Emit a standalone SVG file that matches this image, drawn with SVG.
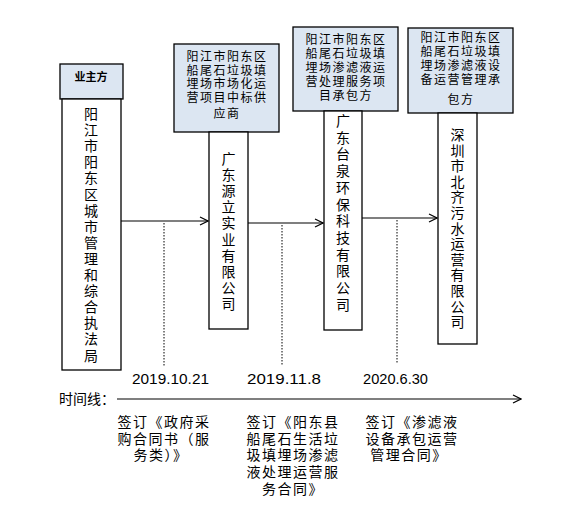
<svg xmlns="http://www.w3.org/2000/svg" width="582" height="509" viewBox="0 0 582 509">
<style>
.hd{fill:#dce6f2;stroke:#000;stroke-width:1.3}
.bd{fill:#fff;stroke:#000;stroke-width:1.3}
.t{font-family:"Liberation Serif","Noto Sans CJK SC",serif;fill:#000}
.h{font-size:12px;letter-spacing:1.5px;text-anchor:middle}
.v{font-size:14px;text-anchor:middle}
.lb{font-size:14px;letter-spacing:1.5px;text-anchor:middle}
.dt{font-family:"Liberation Sans",sans-serif;font-size:15px;fill:#000}
.ln{stroke:#000;stroke-width:1.2;fill:none}
.dot{stroke:#000;stroke-width:1;stroke-dasharray:1.5 1.5;fill:none}
</style>
<defs>
<marker id="arr" markerWidth="10" markerHeight="10" refX="9" refY="5" orient="auto" markerUnits="userSpaceOnUse">
<path d="M1,1 L9,5 L1,9" fill="none" stroke="#000" stroke-width="1.2"/>
</marker>
</defs>
<rect width="582" height="509" fill="#fff"/>

<g id="n1">
<rect class="hd" x="60" y="64" width="63" height="35"/>
<text class="t" x="91" y="81" font-size="11" font-weight="bold" text-anchor="middle">业主方</text>
<rect class="bd" x="62" y="99" width="59" height="271"/>
<text class="t v"><tspan x="91" y="119">阳</tspan><tspan x="91" dy="16.1">江</tspan><tspan x="91" dy="16.1">市</tspan><tspan x="91" dy="16.1">阳</tspan><tspan x="91" dy="16.1">东</tspan><tspan x="91" dy="16.1">区</tspan><tspan x="91" dy="16.1">城</tspan><tspan x="91" dy="16.1">市</tspan><tspan x="91" dy="16.1">管</tspan><tspan x="91" dy="16.1">理</tspan><tspan x="91" dy="16.1">和</tspan><tspan x="91" dy="16.1">综</tspan><tspan x="91" dy="16.1">合</tspan><tspan x="91" dy="16.1">执</tspan><tspan x="91" dy="16.1">法</tspan><tspan x="91" dy="16.1">局</tspan></text>
</g>

<g id="n2">
<rect class="hd" x="174" y="44" width="105" height="88"/>
<text class="t h"><tspan x="227" y="61">阳江市阳东区</tspan><tspan x="227" y="74.5">船尾石垃圾填</tspan><tspan x="227" y="88">埋场市场化运</tspan><tspan x="227" y="101.5">营项目中标供</tspan><tspan x="227" y="118">应商</tspan></text>
<rect class="bd" x="209" y="132" width="39" height="197"/>
<text class="t v"><tspan x="228.5" y="164">广</tspan><tspan x="228.5" dy="16.1">东</tspan><tspan x="228.5" dy="16.1">源</tspan><tspan x="228.5" dy="16.1">立</tspan><tspan x="228.5" dy="16.1">实</tspan><tspan x="228.5" dy="16.1">业</tspan><tspan x="228.5" dy="16.1">有</tspan><tspan x="228.5" dy="16.1">限</tspan><tspan x="228.5" dy="16.1">公</tspan><tspan x="228.5" dy="16.1">司</tspan></text>
</g>

<g id="n3">
<rect class="hd" x="293" y="27" width="105" height="84"/>
<text class="t h"><tspan x="346" y="44">阳江市阳东区</tspan><tspan x="346" y="58">船尾石垃圾填</tspan><tspan x="346" y="72">埋场渗滤液运</tspan><tspan x="346" y="86">营处理服务项</tspan><tspan x="346" y="100">目承包方</tspan></text>
<rect class="bd" x="324" y="111" width="38" height="219"/>
<text class="t v"><tspan x="343" y="126">广</tspan><tspan x="343" dy="16.7">东</tspan><tspan x="343" dy="16.7">台</tspan><tspan x="343" dy="16.7">泉</tspan><tspan x="343" dy="16.7">环</tspan><tspan x="343" dy="16.7">保</tspan><tspan x="343" dy="16.7">科</tspan><tspan x="343" dy="16.7">技</tspan><tspan x="343" dy="16.7">有</tspan><tspan x="343" dy="16.7">限</tspan><tspan x="343" dy="16.7">公</tspan><tspan x="343" dy="16.7">司</tspan></text>
</g>

<g id="n4">
<rect class="hd" x="408" y="28" width="105" height="85"/>
<text class="t h"><tspan x="461" y="42">阳江市阳东区</tspan><tspan x="461" y="56">船尾石垃圾填</tspan><tspan x="461" y="70">埋场渗滤液设</tspan><tspan x="461" y="84">备运营管理承</tspan><tspan x="461" y="104">包方</tspan></text>
<rect class="bd" x="438" y="113" width="39" height="231"/>
<text class="t v"><tspan x="457.5" y="140">深</tspan><tspan x="457.5" dy="15.6">圳</tspan><tspan x="457.5" dy="15.6">市</tspan><tspan x="457.5" dy="15.6">北</tspan><tspan x="457.5" dy="15.6">齐</tspan><tspan x="457.5" dy="15.6">污</tspan><tspan x="457.5" dy="15.6">水</tspan><tspan x="457.5" dy="15.6">运</tspan><tspan x="457.5" dy="15.6">营</tspan><tspan x="457.5" dy="15.6">有</tspan><tspan x="457.5" dy="15.6">限</tspan><tspan x="457.5" dy="15.6">公</tspan><tspan x="457.5" dy="15.6">司</tspan></text>
</g>

<g id="connectors">
<line class="ln" x1="121" y1="221" x2="208" y2="221" marker-end="url(#arr)"/>
<line class="ln" x1="248" y1="223" x2="323" y2="223" marker-end="url(#arr)"/>
<line class="ln" x1="362" y1="218" x2="437" y2="218" marker-end="url(#arr)"/>
<line class="dot" x1="164" y1="223" x2="164" y2="366"/>
<line class="dot" x1="282" y1="225" x2="282" y2="365"/>
<line class="dot" x1="397" y1="220" x2="397" y2="363"/>
<line class="ln" x1="117" y1="399" x2="521" y2="399" marker-end="url(#arr)"/>
</g>

<g id="timeline-labels">
<text class="dt" x="132" y="384" textLength="77" lengthAdjust="spacingAndGlyphs">2019.10.21</text>
<text class="dt" x="247" y="384" textLength="74" lengthAdjust="spacingAndGlyphs">2019.11.8</text>
<text class="dt" x="363" y="384" textLength="65" lengthAdjust="spacingAndGlyphs">2020.6.30</text>
<text class="t" x="59" y="404" font-size="14">时间线：</text>
<text class="t lb"><tspan x="164" y="427">签订《政府采</tspan><tspan x="164" y="444">购合同书（服</tspan><tspan x="161" y="460">务类）》</tspan></text>
<text class="t lb"><tspan x="293" y="427">签订《阳东县</tspan><tspan x="293" y="444">船尾石生活垃</tspan><tspan x="293" y="460">圾填埋场渗滤</tspan><tspan x="293" y="477">液处理运营服</tspan><tspan x="293" y="494">务合同》</tspan></text>
<text class="t lb"><tspan x="412" y="427">签订《渗滤液</tspan><tspan x="412" y="444">设备承包运营</tspan><tspan x="409" y="460">管理合同》</tspan></text>
</g>
</svg>
